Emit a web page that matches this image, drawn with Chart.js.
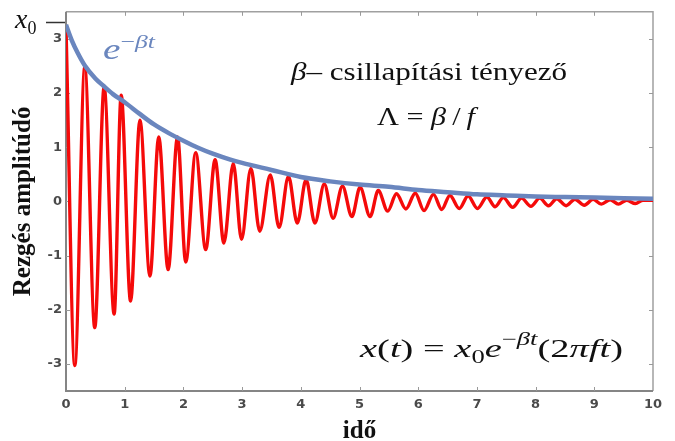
<!DOCTYPE html>
<html>
<head>
<meta charset="utf-8">
<script src="https://cdn.jsdelivr.net/npm/chart.js@4.4.1/dist/chart.umd.min.js"></script>
<style>
html, body { margin: 0; padding: 0; background: #fff; }
#wrap { width: 675px; height: 441px; }
</style>
</head>
<body>
<div id="wrap"><canvas id="chart" width="675" height="441"></canvas></div>
<script>
// Red oscillation: peaks and troughs (time, amplitude)
const timeRed = [0.00, 0.15, 0.32, 0.49, 0.65, 0.82, 0.94, 1.10, 1.26, 1.43,
                 1.58, 1.74, 1.90, 2.04, 2.21, 2.38, 2.54, 2.69, 2.85, 2.99,
                 3.15, 3.30, 3.48, 3.63, 3.79, 3.94, 4.09, 4.24, 4.40, 4.55,
                 4.71, 4.87, 5.01, 5.18, 5.32, 5.48, 5.63, 5.79, 5.95, 6.10,
                 6.26, 6.40, 6.54, 6.70, 6.85, 7.01, 7.17, 7.31, 7.45, 7.61,
                 7.76, 7.92, 8.07, 8.22, 8.36, 8.52, 8.67, 8.83, 8.98, 9.12,
                 9.27, 9.41, 9.55, 9.70, 9.83, 10.00];
const ampRed = [3.20, -3.03, 2.48, -2.33, 2.11, -2.08, 1.96, -1.84, 1.50, -1.38,
                1.19, -1.26, 1.19, -1.12, 0.90, -0.89, 0.77, -0.77, 0.70, -0.70,
                0.61, -0.55, 0.49, -0.48, 0.46, -0.40, 0.40, -0.40, 0.32, -0.31,
                0.28, -0.28, 0.26, -0.28, 0.20, -0.18, 0.14, -0.14, 0.15, -0.17,
                0.13, -0.15, 0.11, -0.13, 0.10, -0.13, 0.08, -0.10, 0.07, -0.11,
                0.06, -0.09, 0.06, -0.08, 0.05, -0.08, 0.04, -0.07, 0.04, -0.05,
                0.03, -0.05, 0.02, -0.04, 0.02, 0.02];

// Blue envelope
const timeEnv = [0, 0.1, 0.2, 0.32, 0.5, 0.64, 0.8, 1.0, 1.25, 1.5, 1.75, 2.0, 2.25,
                 2.5, 2.8, 3.0, 3.5, 4.0, 4.5, 5.0, 5.5, 6.0, 6.5, 7.0, 7.5, 8.0,
                 8.5, 9.0, 9.5, 10.0];
const ampEnv = [3.26, 2.97, 2.74, 2.51, 2.27, 2.13, 1.98, 1.83, 1.62, 1.42, 1.26, 1.12, 0.99,
                0.88, 0.77, 0.71, 0.58, 0.45, 0.37, 0.31, 0.27, 0.21, 0.17, 0.13, 0.11, 0.09,
                0.08, 0.07, 0.06, 0.05];

const xTicks = [0, 1, 2, 3, 4, 5, 6, 7, 8, 9, 10];
const yTicks = [-3, -2, -1, 0, 1, 2, 3];

const RED = '#f50a0a';
const BLUE = '#6a86be';
const AXIS = '#858585';
const SERIF = '"Liberation Serif", "Times New Roman", serif';

// draw a row of text pieces (text, style, size, rise), stretched sideways to a width
function drawRuns(ctx, runs, x, y, width) {
    let w = 0;
    runs.forEach(r => {
        ctx.font = `${r[1]} ${r[2]}px ${SERIF}`;
        w += ctx.measureText(r[0]).width;
    });
    const sx = width ? width / w : 1;
    ctx.save();
    ctx.translate(x, y);
    ctx.scale(sx, 1);
    let cx = 0;
    runs.forEach(r => {
        ctx.font = `${r[1]} ${r[2]}px ${SERIF}`;
        ctx.fillText(r[0], cx, -r[3]);
        cx += ctx.measureText(r[0]).width;
    });
    ctx.restore();
}

const frame = {
    id: 'frame',
    beforeDatasetsDraw(chart) {
        const { ctx, chartArea: a, scales } = chart;
        ctx.save();
        ctx.strokeStyle = '#a0a0a0';
        ctx.lineWidth = 1.5;
        ctx.beginPath();
        ctx.moveTo(a.left, a.top); ctx.lineTo(a.right, a.top); ctx.lineTo(a.right, a.bottom);
        ctx.stroke();
        ctx.strokeStyle = AXIS;
        ctx.lineWidth = 2;
        ctx.beginPath();
        ctx.moveTo(a.left, a.top); ctx.lineTo(a.left, a.bottom); ctx.lineTo(a.right, a.bottom);
        ctx.stroke();
        // inward tick marks on all four sides
        ctx.lineWidth = 1;
        ctx.strokeStyle = '#999';
        ctx.beginPath();
        xTicks.slice(1, -1).forEach(v => {
            const px = Math.round(scales.x.getPixelForValue(v)) + 0.5;
            ctx.moveTo(px, a.bottom); ctx.lineTo(px, a.bottom - 4);
            ctx.moveTo(px, a.top); ctx.lineTo(px, a.top + 4);
        });
        yTicks.forEach(v => {
            const py = Math.round(scales.y.getPixelForValue(v)) + 0.5;
            ctx.moveTo(a.left, py); ctx.lineTo(a.left + 4, py);
            ctx.moveTo(a.right, py); ctx.lineTo(a.right - 4, py);
        });
        ctx.stroke();
        ctx.restore();
    },
    afterDraw(chart) {
        const ctx = chart.ctx;
        ctx.save();
        ctx.textBaseline = 'alphabetic';
        ctx.textAlign = 'left';
        // x0 marker
        ctx.fillStyle = '#111';
        drawRuns(ctx, [['x', 'italic', 28, 0], ['0', 'normal', 18, -6]], 15, 28);
        ctx.strokeStyle = '#333';
        ctx.lineWidth = 1.5;
        ctx.beginPath(); ctx.moveTo(46, 22.5); ctx.lineTo(65, 22.5); ctx.stroke();
        // envelope label
        ctx.fillStyle = BLUE;
        drawRuns(ctx, [['e', 'italic', 29, 0], ['\u2212', 'normal', 19, 11], ['\u03b2t', 'italic', 19, 11]], 103, 59, 52);
        // texts
        ctx.fillStyle = '#111';
        drawRuns(ctx, [['\u03b2', 'italic', 26, 0], ['\u2013 csillapítási tényező', 'normal', 26, 0]], 291, 80, 276);
        drawRuns(ctx, [['\u039b = ', 'normal', 26, 0], ['\u03b2', 'italic', 26, 0], ['\u2009/\u2009', 'normal', 26, 0], ['f', 'italic', 26, 0]], 377, 125, 98);
        drawRuns(ctx, [
            ['x', 'italic', 26, 0], ['(', 'normal', 26, 0], ['t', 'italic', 26, 0], [') = ', 'normal', 26, 0],
            ['x', 'italic', 26, 0], ['0', 'normal', 18, -6], ['e', 'italic', 26, 0],
            ['\u2212', 'normal', 18, 12], ['\u03b2t', 'italic', 18, 12],
            ['(2', 'normal', 26, 0], ['\u03c0ft', 'italic', 26, 0], [')', 'normal', 26, 0]
        ], 360, 357, 263);
        ctx.restore();
    }
};

const ctx = document.getElementById('chart').getContext('2d');
const chart = new Chart(ctx, {
    type: 'line',
    data: {
        datasets: [
            {
                label: 'envelope',
                data: timeEnv.map((t, i) => ({ x: t, y: ampEnv[i] })),
                borderColor: BLUE,
                borderWidth: 4.5,
                pointRadius: 0,
                cubicInterpolationMode: 'monotone',
                order: 0
            },
            {
                label: 'x(t)',
                data: timeRed.map((t, i) => ({ x: t, y: ampRed[i] })),
                borderColor: RED,
                borderWidth: 3.4,
                pointRadius: 0,
                cubicInterpolationMode: 'monotone',
                order: 1
            }
        ]
    },
    options: {
        responsive: false,
        animation: false,
        layout: { padding: { left: 0, right: 22, top: 10, bottom: 0 } },
        plugins: { legend: { display: false }, tooltip: { enabled: false } },
        scales: {
            x: {
                type: 'linear',
                min: 0,
                max: 10,
                afterBuildTicks: s => { s.ticks = xTicks.map(v => ({ value: v })); },
                afterFit: s => { s.height = 50; },
                grid: { display: false, drawTicks: false },
                border: { display: false },
                ticks: { padding: 6, color: '#4a4a4a', font: { family: '"DejaVu Sans"', weight: 'bold', size: 13 } },
                title: {
                    display: true, text: 'idő', color: '#111',
                    font: { family: SERIF, weight: 'bold', size: 25, lineHeight: 1 },
                    padding: { top: 0, bottom: -3 }
                }
            },
            y: {
                min: -3.5,
                max: 3.5,
                afterBuildTicks: s => { s.ticks = yTicks.map(v => ({ value: v })); },
                afterFit: s => { s.width = 66; },
                grid: { display: false, drawTicks: false },
                border: { display: false },
                ticks: { padding: 4, color: '#4a4a4a', font: { family: '"DejaVu Sans"', weight: 'bold', size: 13 } },
                title: {
                    display: true, text: 'Rezgés amplitúdó', color: '#111',
                    font: { family: SERIF, weight: 'bold', size: 25, lineHeight: 1 },
                    padding: { top: 11, bottom: 0 }
                }
            }
        }
    },
    plugins: [frame]
});
</script>
</body>
</html>
